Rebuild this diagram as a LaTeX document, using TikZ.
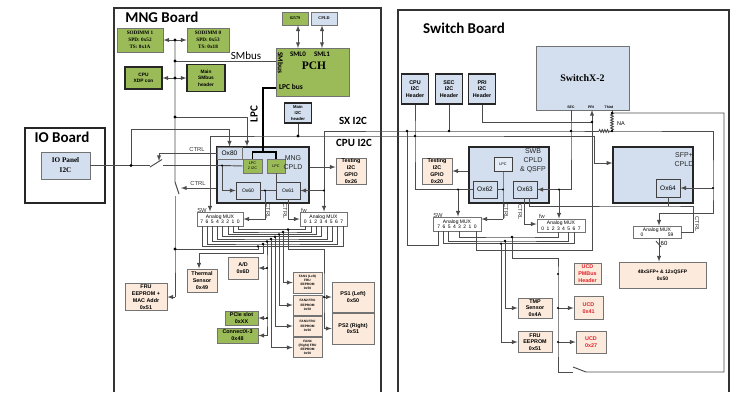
\documentclass[tikz,border=0pt]{standalone}
\usepackage{fontspec}
\setmainfont{Liberation Serif}
\setsansfont{Liberation Sans}
\newfontfamily\boardfont{Carlito}
\usetikzlibrary{decorations.pathmorphing}
\definecolor{pcbgreen}{RGB}{155,187,89}
\definecolor{chipblue}{RGB}{211,223,238}
\definecolor{chippeach}{RGB}{252,234,220}
\definecolor{ucdred}{RGB}{225,35,45}
\newcommand{\pn}[1]{\makebox[5.2pt]{#1}}
\tikzset{
	wire/.style={draw=black!70,line width=0.95pt},
	lpcbus/.style={draw=black,line width=1.5pt},
	board/.style={draw=black!80,line width=1.1pt},
	bsize/.style 2 args={minimum width=#1pt,minimum height=#2pt},
	box/.style={draw=black!55,line width=0.8pt,inner sep=0pt,align=center,font=\sffamily\bfseries\fontsize{5.4}{6.8}\selectfont},
	greenbox/.style={box,fill=pcbgreen},
	peachbox/.style={box,fill=chippeach},
	ucdbox/.style={box,fill=chippeach,text=ucdred},
	bluebox/.style={box,fill=chipblue},
	headerbox/.style={box,fill=chipblue,draw=black!85,line width=1.1pt},
	fanbox/.style={box,fill=chippeach,font=\sffamily\bfseries\fontsize{3.2}{4.2}\selectfont},
	cpldbox/.style={box,fill=chipblue,draw=black!85,line width=1.3pt},
	regbox/.style={box,fill=chipblue,draw=black!75,font=\sffamily\fontsize{6.5}{7}\selectfont},
	muxbox/.style={box,fill=white,font=\sffamily\fontsize{5}{5.5}\selectfont},
	title/.style={font=\boardfont\bfseries\fontsize{15}{16}\selectfont,inner sep=0pt},
	buslabel/.style={font=\boardfont\bfseries\fontsize{11}{12}\selectfont,inner sep=0pt},
	ctrllabel/.style={font=\sffamily\fontsize{5.8}{6}\selectfont,inner sep=0pt,text=black!80},
	cpldlabel/.style={font=\sffamily\fontsize{7}{9}\selectfont,inner sep=0pt,align=center,text=black!85},
	pinlabel/.style={font=\sffamily\bfseries\fontsize{3.5}{4}\selectfont,inner sep=0pt},
}
\begin{document}
\begin{tikzpicture}[x=1pt,y=-1pt,>=latex]
	\useasboundingbox (0,0) rectangle (731,392);
	\coordinate (mngA) at (114,392);
	\coordinate (mngB) at (381,8);
	\coordinate (swbA) at (398,392);
	\coordinate (swbB) at (729,10);
	\draw [board] (mngA) |- (mngB) -- (mngB |- mngA);
	\draw [board] (swbA) |- (swbB) -- (swbB |- swbA);
	\node [title] (mngTitle) at (162,17) {MNG Board};
	\node [title] (swbTitle) at (464,28) {Switch Board};
	\node [draw=black!85,line width=1.1pt,fill=white,bsize={80}{75}] (ioBoard) at (65,165.5) {};
	\node [title] (ioTitle) at (62,137) {IO Board};
	\node [bluebox,bsize={49}{27},font=\rmfamily\bfseries\fontsize{7.2}{10}\selectfont] (ioPanel) at (65.5,165.5) {IO Panel\\I2C};

	\node [greenbox,bsize={46}{24},font=\rmfamily\bfseries\fontsize{5.2}{6.8}\selectfont] (sodimmB) at (140,40) {SODIMM 1\\SPD: 0x52\\TS: 0x1A};
	\node [greenbox,bsize={42}{24},font=\rmfamily\bfseries\fontsize{5.2}{6.8}\selectfont] (sodimmA) at (208,40) {SODIMM 0\\SPD: 0x53\\TS: 0x18};
	\node [greenbox,draw=black!85,line width=1.1pt,bsize={37}{22},font=\sffamily\bfseries\fontsize{4.8}{6.5}\selectfont] (xdp) at (143.5,78) {CPU\\XDP con};
	\node [greenbox,draw=black!85,line width=1.1pt,bsize={38}{27},font=\sffamily\bfseries\fontsize{4.8}{6.5}\selectfont] (smbHeader) at (206,78) {Main\\SMbus\\header};
	\node [greenbox,bsize={26}{13},font=\rmfamily\bfseries\fontsize{4.2}{5}\selectfont] (phyChip) at (295,18.5) {82579};
	\node [bluebox,bsize={26}{13},font=\rmfamily\bfseries\fontsize{4.2}{5}\selectfont] (topCpld) at (324,18.5) {CPLD};
	\node [greenbox,bsize={73}{48}] (pch) at (312.5,72) {};
	\node [font=\boardfont\bfseries\fontsize{7}{8}\selectfont,inner sep=0pt] (smlA) at (298,54) {SML0};
	\node [font=\boardfont\bfseries\fontsize{7}{8}\selectfont,inner sep=0pt] (smlB) at (322,54) {SML1};
	\node [font=\rmfamily\bfseries\fontsize{11.5}{12}\selectfont,inner sep=0pt] (pchText) at (314,66) {PCH};
	\node [font=\boardfont\bfseries\fontsize{7.5}{8}\selectfont,inner sep=0pt,rotate=-90] (pchSmbus) at (280.5,63) {SMbus};
	\node [font=\boardfont\bfseries\fontsize{7.5}{8}\selectfont,inner sep=0pt] (pchLpc) at (291,87) {LPC bus};
	\node [headerbox,bsize={27}{20},font=\sffamily\bfseries\fontsize{4.2}{6}\selectfont] (mainHeader) at (298,113) {Main\\I2C\\header};

	\node [font=\boardfont\fontsize{11}{12}\selectfont,inner sep=0pt] (smbusLabel) at (246,56) {SMbus};
	\node [buslabel,rotate=90] (lpcLabel) at (254,114) {LPC};
	\node [buslabel] (sxLabel) at (353,121) {SX I2C};
	\node [buslabel] (cpuLabel) at (354,143) {CPU I2C};

	\node [cpldbox,bsize={92}{56}] (mngCpld) at (263,175) {};
	\node [box,fill=chipblue,bsize={25}{12},font=\sffamily\fontsize{6.6}{7}\selectfont] (oxEighty) at (229.5,153) {Ox80};
	\node [box,fill=pcbgreen,bsize={19}{14},font=\sffamily\fontsize{3.8}{5}\selectfont] (lpcA) at (252.5,166) {LPC\\2 I2C};
	\node [box,fill=pcbgreen,bsize={18}{14},font=\sffamily\fontsize{3.8}{5}\selectfont] (lpcB) at (276,166) {LPC};
	\node [cpldlabel] (mngText) at (293,163) {MNG\\CPLD};
	\node [regbox,bsize={24}{17},font=\sffamily\fontsize{5}{6}\selectfont] (oxSixty) at (248,190.5) {Ox60};
	\node [regbox,bsize={24}{17},font=\sffamily\fontsize{5}{6}\selectfont] (oxSixtyOne) at (288,190.5) {Ox61};
	\node [peachbox,bsize={30}{26}] (testA) at (351,171) {Testing\\I2C\\GPIO\\0x26};

	\node [muxbox,bsize={46}{14}] (muxA) at (220,219) {Analog MUX\\\pn7\pn6\pn5\pn4\pn3\pn2\pn1\pn0};
	\node [muxbox,bsize={47}{14}] (muxB) at (323.5,219) {Analog MUX\\\pn0\pn1\pn2\pn3\pn4\pn5\pn6\pn7};
	\node [ctrllabel] (swA) at (202,210) {SW};
	\node [ctrllabel] (fwA) at (304,210) {fw};
	\node [ctrllabel] (ctrlA) at (197,149) {CTRL};
	\node [ctrllabel] (ctrlB) at (198,183) {CTRL};
	\node [ctrllabel,rotate=-90] (ctrlC) at (268,211) {CTRL};
	\node [ctrllabel,rotate=-90] (ctrlD) at (285,211) {CTRL};

	\node [peachbox,bsize={42}{27}] (fruA) at (146,297) {FRU\\EEPROM +\\MAC Addr\\0x51};
	\node [peachbox,bsize={30}{23}] (thermal) at (202,280.5) {Thermal\\Sensor\\0x49};
	\node [peachbox,bsize={30}{22}] (adBox) at (243,268) {A/D\\0x6D};
	\node [greenbox,bsize={33}{14}] (pcieBox) at (241.5,318) {PCIe slot\\0xXX};
	\node [greenbox,bsize={41}{15}] (connectBox) at (237.5,335.5) {ConnectX-3\\0x48};
	\node [fanbox,bsize={29}{21}] (fanA) at (307.5,282.5) {FAN1 (Left)\\FRU\\EEPROM\\0x50};
	\node [fanbox,bsize={29}{20}] (fanB) at (307.5,305) {FAN2 FRU\\EEPROM\\0x50};
	\node [fanbox,bsize={29}{20}] (fanC) at (307.5,326) {FAN3 FRU\\EEPROM\\0x50};
	\node [fanbox,bsize={29}{20}] (fanD) at (307.5,347.5) {FAN4\\(Right) FRU\\EEPROM\\0x50};
	\node [peachbox,bsize={42}{30}] (psA) at (353,297) {PS1 (Left)\\0x50};
	\node [peachbox,bsize={42}{31}] (psB) at (353,328.5) {PS2 (Right)\\0x51};

	\node [headerbox,bsize={27}{30}] (cpuHeader) at (415,89) {CPU\\I2C\\Header};
	\node [headerbox,bsize={27}{30}] (secHeader) at (449,89) {SEC\\I2C\\Header};
	\node [headerbox,bsize={27}{30}] (priHeader) at (482,89) {PRI\\I2C\\Header};
	\node [bluebox,bsize={93}{64},font=\rmfamily\bfseries\fontsize{10}{12}\selectfont] (switchX) at (582.5,78) {SwitchX-2};
	\node [pinlabel] (secLabel) at (571,107.5) {SEC};
	\node [pinlabel] (priLabel) at (591,107.5) {PRI};
	\node [pinlabel] (thirdLabel) at (609,107.5) {Third};
	\node [font=\sffamily\fontsize{5.5}{6}\selectfont,inner sep=0pt] (naLabel) at (621,124) {NA};

	\node [cpldbox,bsize={80}{56}] (swbCpld) at (509,175) {};
	\node [cpldlabel] (swbText) at (533,161) {SWB\\CPLD\\\& QSFP};
	\node [regbox,draw=black!75,fill=white!40!chipblue,bsize={18}{14},font=\sffamily\fontsize{3.8}{5}\selectfont] (lpcC) at (503,164) {LPC};
	\node [regbox,bsize={24}{17}] (oxSixtyTwo) at (485,189.5) {Ox62};
	\node [regbox,bsize={24}{17}] (oxSixtyThree) at (525,189.5) {Ox63};
	\node [peachbox,bsize={30}{26}] (testB) at (437,171) {Testing\\I2C\\GPIO\\0x20};
	\node [cpldbox,bsize={80}{56}] (sfpCpld) at (653,175) {};
	\node [cpldlabel] (sfpText) at (684,160) {SFP+\\CPLD};
	\node [regbox,bsize={24}{18}] (oxSixtyFour) at (668,188) {Ox64};

	\node [muxbox,bsize={48}{14}] (muxD) at (457,224) {Analog MUX\\\pn7\pn6\pn5\pn4\pn3\pn2\pn1\pn0};
	\node [muxbox,bsize={48}{13}] (muxE) at (561,225.5) {Analog MUX\\\pn0\pn1\pn2\pn3\pn4\pn5\pn6\pn7};
	\node [muxbox,bsize={48}{12}] (muxC) at (657,232) {Analog MUX\\\makebox[33pt]{0\hfill 59}};
	\node [ctrllabel] (swB) at (438,215) {SW};
	\node [ctrllabel] (fwB) at (542,216) {fw};
	\node [ctrllabel,rotate=-90] (ctrlE) at (506,211) {CTRL};
	\node [ctrllabel,rotate=-90] (ctrlF) at (520,212) {CTRL};
	\node [ctrllabel,rotate=-90] (ctrlG) at (697,224) {CTRL};
	\node [font=\sffamily\fontsize{6}{7}\selectfont,inner sep=0pt] (sixtyLabel) at (664,243) {60};
	\node [peachbox,bsize={87}{26},font=\sffamily\bfseries\fontsize{5}{7}\selectfont] (portsBox) at (662.5,275) {48xSFP+ \& 12xQSFP\\0x50};

	\node [ucdbox,bsize={27}{21}] (ucdHeader) at (587.5,273.5) {UCD\\PMBus\\Header};
	\node [ucdbox,bsize={29}{23}] (ucdA) at (588.5,308) {UCD\\0x41};
	\node [ucdbox,bsize={30}{22}] (ucdB) at (591,342) {UCD\\0x27};
	\node [peachbox,bsize={34}{20}] (tmpBox) at (535,308) {TMP\\Sensor\\0x4A};
	\node [peachbox,bsize={34}{21}] (fruB) at (535,342) {FRU\\EEPROM\\0x51};

	\coordinate (jSodimm) at (175,40);
	\coordinate (jSmb) at (175,61);
	\coordinate (jXdp) at (175,78);
	\coordinate (jMain) at (175,117);
	\coordinate (cLpcCtl) at (247,117);
	\coordinate (bladeBTop) at (175,182);
	\coordinate (bladeBTip) at (179,194);
	\coordinate (bladeBBot) at (175,196);
	\coordinate (jFru) at (175,249);
	\coordinate (cFruEnd) at (175,297);
	\coordinate (jIo) at (131,165.5);
	\coordinate (cIoTop) at (131,129);
	\coordinate (bladeAL) at (150,167);
	\coordinate (bladeAEnd) at (150,165.5);
	\coordinate (bladeATip) at (162,159.5);
	\coordinate (bladeAR) at (163,165.5);
	\coordinate (jCpldIn) at (222,165.5);
	\coordinate (cCtlA) at (159,153);
	\coordinate (cCtlAEnd) at (159,161);
	\coordinate (cCtlB) at (181,188);
	\coordinate (cLpcBus) at (263,88);
	\coordinate (cLpcSplit) at (263,152);
	\coordinate (jCtlC) at (265,190.5);
	\coordinate (jOxSixtyOne) at (324,190.5);
	\coordinate (cTest) at (320,167);
	\coordinate (smlAPin) at (298,48);
	\coordinate (smlBPin) at (322,48);

	\coordinate (cSx) at (210,136);
	\coordinate (jHeader) at (298,136);
	\coordinate (jCpuHeader) at (415,136);
	\coordinate (cSfpTop) at (594.5,136);
	\coordinate (cSfpIn) at (594.5,163);
	\coordinate (cFw) at (324,131);
	\coordinate (jUpper) at (407,131);
	\coordinate (jSecHeader) at (449,131);
	\coordinate (jSec) at (571,131);
	\coordinate (resL) at (599,131);
	\coordinate (resM) at (610,131);
	\coordinate (jRes) at (612,131);
	\coordinate (cRight) at (713,131);
	\coordinate (jOxSixtyFour) at (713,188);
	\coordinate (cMuxTop) at (713,213);
	\coordinate (cMuxIn) at (659,213);
	\coordinate (secPin) at (571,110);
	\coordinate (priPin) at (592,110);
	\coordinate (jPri) at (592,122);
	\coordinate (cPriDown) at (592,250);
	\coordinate (thirdPin) at (612,110);
	\coordinate (jThird) at (612,113);
	\coordinate (cThird) at (724,113);
	\coordinate (cThirdEnd) at (724,372);
	\coordinate (bladeCR) at (586,372);
	\coordinate (bladeCTip) at (573,367);
	\coordinate (bladeCL) at (573,372);
	\coordinate (cBottomLeft) at (558,372);
	\coordinate (cUpperLow) at (407,245);
	\coordinate (cSwOut) at (458,189.5);
	\coordinate (cCpuTurn) at (415,189.5);
	\coordinate (jSwLpc) at (503,189.5);
	\coordinate (cSwCtl) at (503,219);
	\coordinate (cOxRight) at (524,224);
	\coordinate (cOxRightTop) at (524,190);
	\coordinate (cCtlTop) at (529,190);
	\coordinate (cCtlTurn) at (529,206);
	\coordinate (jOxSixtyFourOut) at (668,206);
	\coordinate (cCtlFar) at (693,206);
	\coordinate (cCtlDown) at (693,232);
	\coordinate (cSecDown) at (571,189.5);
	\coordinate (jFwOut) at (559,189.5);
	\coordinate (slashA) at (656,241);
	\coordinate (slashB) at (661,247);

	\coordinate (pA0) at (238,226); \coordinate (pB0) at (305,226); \coordinate (jMux0) at (288,229.5);
	\coordinate (pA1) at (233,226); \coordinate (pB1) at (311,226); \coordinate (jMux1) at (283,232);
	\coordinate (pA2) at (228,226); \coordinate (pB2) at (316,226); \coordinate (jMux2) at (279,234.3);
	\coordinate (pA3) at (222,226); \coordinate (pB3) at (321,226); \coordinate (jMux3) at (275,236.7);
	\coordinate (pA4) at (217,226); \coordinate (pB4) at (327,226); \coordinate (jMux4) at (271,239);
	\coordinate (pA5) at (212,226); \coordinate (pB5) at (332,226); \coordinate (jMux5) at (267,241.5);
	\coordinate (pA6) at (207,226); \coordinate (pB6) at (337,226); \coordinate (jMux6) at (263,244);
	\coordinate (pA7) at (202,226); \coordinate (pB7) at (343,226); \coordinate (jMux7) at (258,246.3);
	\coordinate (cTherm) at (199,253);
	\coordinate (jAd) at (267,268);
	\coordinate (jPcie) at (267,318);
	\coordinate (cConnect) at (267,335.5);
	\coordinate (cPsTurn) at (324,249);
	\coordinate (jPs) at (324,297);
	\coordinate (cPsEnd) at (324,328.5);

	\coordinate (pD0) at (476,231); \coordinate (pD3) at (459,231); \coordinate (pD5) at (448,231); \coordinate (pD6) at (443,231); \coordinate (pD7) at (438,231);
	\coordinate (pE3) at (558,232); \coordinate (pE5) at (568,232); \coordinate (pE6) at (574,232);
	\coordinate (jFruB) at (501,243.6);
	\coordinate (jTmp) at (505,241);
	\coordinate (jLow) at (512,237);
	\coordinate (cLow) at (512,258);
	\coordinate (cLowRight) at (558,258);
	\coordinate (jHeaderDot) at (558,274);
	\coordinate (jUcdA) at (558,308);
	\coordinate (jUcdB) at (558,342);
	\coordinate (cTmp) at (505,308);
	\coordinate (cFru) at (501,342);

	\draw [wire,<->] (sodimmB.east) -- (sodimmA.west);
	\draw [wire,<->] (xdp.east) -- (smbHeader.west);
	\draw [wire,<->] (phyChip.south -| smlAPin) -- (smlAPin);
	\draw [wire,<->] (topCpld.south -| smlBPin) -- (smlBPin);
	\draw [wire] (jSodimm) -- (jSmb) -- (jXdp) -- (jMain) -- (bladeBTop) -- (bladeBTip);
	\draw [wire] (bladeBBot) -- (jFru) -- (cFruEnd);
	\draw [wire] (jSmb) -- (pch.west |- jSmb);
	\draw [wire,->] (jMain) -- (cLpcCtl) -- (cLpcCtl |- mngCpld.north);
	\draw [wire,->] (cFruEnd) -- (fruA.east);
	\draw [wire] (ioPanel.east) -- (jIo) -- (bladeAEnd);
	\draw [wire] (bladeAL) -- (bladeATip);
	\draw [wire,->] (jIo) -- (cIoTop) -| (oxEighty.north);
	\draw [wire] (bladeAR) -- (jCpldIn) -- (lpcA.west);
	\draw [wire,->] (jCpldIn) |- (oxSixty.west);
	\draw [wire,->] (oxEighty.west |- cCtlA) -- (cCtlA) -- (cCtlAEnd);
	\draw [wire,->] (mngCpld.west |- cCtlB) -- (cCtlB);
	\draw [lpcbus] (pch.west |- cLpcBus) -- (cLpcBus) -- (cLpcSplit);
	\draw [lpcbus] (lpcA.north) |- (cLpcSplit) -| (lpcB.north);
	\draw [wire] (lpcB.south) |- (oxSixty.east);
	\draw [wire,->] (jCtlC) |- (muxA.east);
	\draw [wire,->] (oxSixtyOne.south) |- (muxB.west);
	\draw [wire,->] (mngCpld.east |- cTest) -- (testA.west |- cTest);
	\draw [wire,->] (jOxSixtyOne) -- (oxSixtyOne.east);
	\draw [wire] (mainHeader.south) -- (jHeader);
	\draw [wire] (cSx) -- (jHeader) -- (jCpuHeader) -- (cSfpTop);
	\draw [wire,->] (cSx) -- (cSx |- muxA.north);
	\draw [wire] (cFw) -- (jUpper) -- (jSecHeader) -- (jSec) -- (resL);
	\draw [wire,->] (cFw) -- (cFw |- muxB.north);
	\draw [wire,decorate,decoration={zigzag,segment length=2.6pt,amplitude=1.3pt}] (resL) -- (resM);
	\draw [wire] (resM) -- (jRes) -- (cRight) -- (jOxSixtyFour) -- (cMuxTop) -- (cMuxIn);
	\draw [wire,->] (cMuxIn) -- (cMuxIn |- muxC.north);
	\draw [wire,->] (jOxSixtyFour) -- (oxSixtyFour.east);
	\draw [wire] (jThird) -- (thirdPin);
	\draw [wire,decorate,decoration={zigzag,segment length=2.6pt,amplitude=1.3pt}] (jThird) -- (jRes);
	\draw [wire] (jThird) -- (cThird) -- (cThirdEnd) -- (bladeCR) -- (bladeCTip);
	\draw [wire] (bladeCL) -- (cBottomLeft) -- (jUcdB) -- (jUcdA) -- (jHeaderDot) -- (cLowRight) -- (cLow) -- (jLow);
	\draw [wire] (cpuHeader.south) -- (jCpuHeader) -- (cCpuTurn) -- (cSwOut) -- (oxSixtyTwo.west);
	\draw [wire] (secHeader.south) -- (jSecHeader);
	\draw [wire] (priHeader.south) |- (jPri);
	\draw [wire,->] (jPri) -- (priPin);
	\draw [wire] (jPri) -- (cPriDown) -| (pD0);
	\draw [wire] (jUpper) -- (cUpperLow) -| (pD7);
	\draw [wire,->] (cSfpTop) -- (cSfpIn) -- (sfpCpld.west |- cSfpIn);
	\draw [wire] (secPin) -- (jSec) -- (cSecDown) -- (jFwOut);
	\draw [wire,->] (jFwOut) -- (oxSixtyThree.east);
	\draw [wire,->] (jFwOut) -- (jFwOut |- muxE.north);
	\draw [wire,->] (cSwOut) -- (cSwOut |- muxD.north);
	\draw [wire,->] (swbCpld.west |- testB.east) -- (testB.east);
	\draw [wire] (oxSixtyTwo.east) -- (jSwLpc);
	\draw [wire] (lpcC.south) -- (jSwLpc) -- (cSwCtl);
	\draw [wire,->] (cSwCtl) -- (muxD.east |- cSwCtl);
	\draw [wire,->] (oxSixtyThree.south -| cOxRight) -- (cOxRight) -- (muxE.west |- cOxRight);
	\draw [wire] (oxSixtyThree.south -| cCtlTop) -- (cCtlTurn) -- (jOxSixtyFourOut) -- (cCtlFar) -- (cCtlDown) -- (muxC.east);
	\draw [wire] (oxSixtyFour.south -| jOxSixtyFourOut) -- (jOxSixtyFourOut);
	\draw [wire,->] (cMuxIn |- muxC.south) -- (cMuxIn |- portsBox.north);
	\draw [wire] (slashA) -- (slashB);

	\draw [wire] (pA0) |- (jMux0) -| (pB0);
	\draw [wire] (pA1) |- (jMux1) -| (pB1);
	\draw [wire] (pA2) |- (jMux2) -| (pB2);
	\draw [wire] (pA3) |- (jMux3) -| (pB3);
	\draw [wire] (pA4) |- (jMux4) -| (pB4);
	\draw [wire] (pA5) |- (jMux5) -| (pB5);
	\draw [wire] (pA6) |- (jMux6) -| (pB6);
	\draw [wire] (pA7) |- (jMux7) -| (pB7);
	\draw [wire] (jMux7) |- (jFru);
	\draw [wire] (jMux6) |- (cTherm);
	\draw [wire,->] (cTherm) -- (cTherm |- thermal.north);
	\draw [wire] (jMux5) -- (jAd) -- (jPcie) -- (cConnect);
	\draw [wire,->] (jAd) -- (adBox.east);
	\draw [wire,->] (jPcie) -- (pcieBox.east);
	\draw [wire,->] (cConnect) -- (connectBox.east);
	\draw [wire,->] (jMux4) |- (fanD.west);
	\draw [wire,->] (jMux3) |- (fanC.west);
	\draw [wire,->] (jMux2) |- (fanB.west);
	\draw [wire,->] (jMux1) |- (fanA.west);
	\draw [wire] (jMux0) |- (cPsTurn) -- (jPs) -- (cPsEnd);
	\draw [wire,->] (jPs) -- (psA.west);
	\draw [wire,->] (cPsEnd) -- (psB.west);

	\draw [wire] (pD6) |- (jFruB) -| (pE6);
	\draw [wire] (pD5) |- (jTmp) -| (pE5);
	\draw [wire] (pD3) |- (jLow) -| (pE3);
	\draw [wire] (jFruB) -- (cFru);
	\draw [wire] (jTmp) -- (cTmp);
	\draw [wire,->] (cFru) -- (fruB.west);
	\draw [wire,->] (cTmp) -- (tmpBox.west);
	\draw [wire,->] (jUcdA) -- (ucdA.west);
	\draw [wire,->] (jUcdB) -- (ucdB.west);

	\fill (jSodimm) circle (1.6pt) (jSmb) circle (1.6pt) (jXdp) circle (1.6pt) (jMain) circle (1.6pt) (jFru) circle (1.6pt);
	\fill (jIo) circle (1.6pt) (jCpldIn) circle (1.2pt) (jCtlC) circle (1.2pt) (jOxSixtyOne) circle (1.2pt) (jHeader) circle (1.6pt);
	\fill (jUpper) circle (1.3pt) (jCpuHeader) circle (1.3pt) (jSecHeader) circle (1.3pt) (jSec) circle (1.3pt) (jRes) circle (1.3pt);
	\fill (jPri) circle (1.3pt) (jThird) circle (1.3pt) (jOxSixtyFour) circle (1.2pt) (cSwOut) circle (1.2pt) (jSwLpc) circle (1.2pt) (jFwOut) circle (1.2pt);
	\fill (jMux0) circle (1.3pt) (jMux1) circle (1.3pt) (jMux2) circle (1.3pt) (jMux3) circle (1.3pt) (jMux4) circle (1.3pt) (jMux5) circle (1.3pt) (jMux6) circle (1.3pt) (jMux7) circle (1.3pt);
	\fill (jAd) circle (1.2pt) (jPcie) circle (1.2pt) (jPs) circle (1.2pt) (jFruB) circle (1.3pt) (jTmp) circle (1.3pt) (jLow) circle (1.3pt);
	\fill (jHeaderDot) circle (1.2pt) (jUcdA) circle (1.2pt) (jUcdB) circle (1.2pt);
\end{tikzpicture}
\end{document}
